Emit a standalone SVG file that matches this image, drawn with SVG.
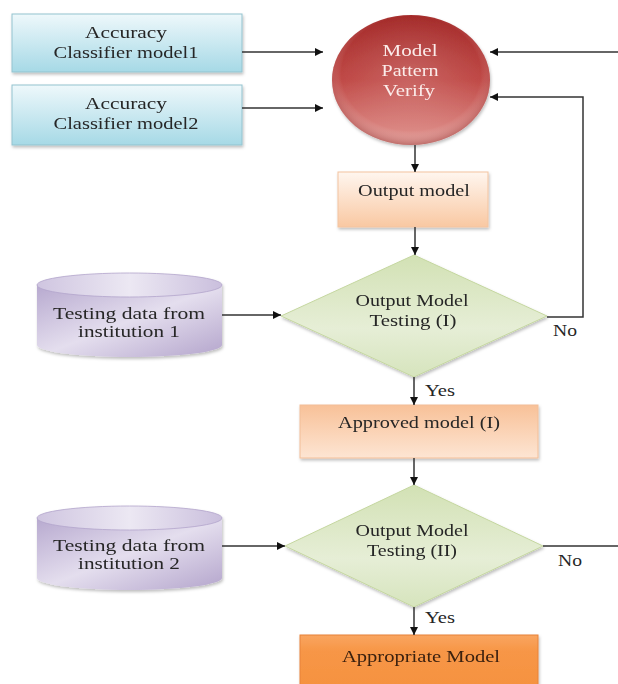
<svg xmlns="http://www.w3.org/2000/svg" width="618" height="684" viewBox="0 0 618 684">
<defs>
<linearGradient id="gCyan" x1="0" y1="0" x2="0" y2="1"><stop offset="0" stop-color="#eef8fb"/><stop offset="1" stop-color="#a6d9e6"/></linearGradient>
<linearGradient id="gRed" x1="0" y1="0" x2="0" y2="1"><stop offset="0" stop-color="#a42b2a"/><stop offset="0.5" stop-color="#c04a47"/><stop offset="1" stop-color="#e39a95"/></linearGradient>
<radialGradient id="gRedR" cx="0.5" cy="0.45" r="0.55"><stop offset="0" stop-color="#ffffff" stop-opacity="0.15"/><stop offset="0.8" stop-color="#ffffff" stop-opacity="0"/><stop offset="1" stop-color="#7a1a1a" stop-opacity="0.35"/></radialGradient>
<linearGradient id="gPeach" x1="0" y1="0" x2="0" y2="1"><stop offset="0" stop-color="#fff6ef"/><stop offset="1" stop-color="#f9c8a2"/></linearGradient>
<linearGradient id="gApproved" x1="0" y1="0" x2="0" y2="1"><stop offset="0" stop-color="#f8c198"/><stop offset="1" stop-color="#fde5d3"/></linearGradient>
<linearGradient id="gOrange" x1="0" y1="0" x2="0" y2="1"><stop offset="0" stop-color="#f9a560"/><stop offset="0.3" stop-color="#f79646"/><stop offset="1" stop-color="#f59240"/></linearGradient>
<linearGradient id="gGreen" x1="0" y1="0" x2="0" y2="1"><stop offset="0" stop-color="#d2e1b4"/><stop offset="0.6" stop-color="#e6eed6"/><stop offset="1" stop-color="#d6e4bd"/></linearGradient>
<linearGradient id="gLav" x1="0" y1="0" x2="1" y2="1"><stop offset="0" stop-color="#b7a9cf"/><stop offset="0.5" stop-color="#e4deee"/><stop offset="1" stop-color="#b4a5cc"/></linearGradient>
<linearGradient id="gLavTop" x1="0" y1="0" x2="1" y2="0"><stop offset="0" stop-color="#cfc5e0"/><stop offset="0.5" stop-color="#ece8f3"/><stop offset="1" stop-color="#cabfdd"/></linearGradient>
<filter id="sh" x="-10%" y="-10%" width="120%" height="130%"><feDropShadow dx="1" dy="2" stdDeviation="1.5" flood-color="#000" flood-opacity="0.25"/></filter>
<marker id="ah" viewBox="0 0 10 10" refX="10" refY="5" markerWidth="8" markerHeight="8" markerUnits="userSpaceOnUse" orient="auto"><path d="M0,0 L10,5 L0,10 z" fill="#111"/></marker>
</defs>
<style>
text{font-family:"Liberation Serif","Times New Roman",serif;font-size:17px;fill:#262626;text-anchor:middle;}
.w{fill:#fbecea;}
.c{fill:none;stroke:#333;stroke-width:1.5;}
.a{marker-end:url(#ah);}
</style>
<rect width="618" height="684" fill="#ffffff"/>
<g id="acc1" filter="url(#sh)"><rect x="12" y="14" width="230" height="58" fill="url(#gCyan)" stroke="#93c3cf" stroke-width="1"/>
<text x="126" y="38" textLength="82" lengthAdjust="spacingAndGlyphs">Accuracy</text>
<text x="126" y="58" textLength="145" lengthAdjust="spacingAndGlyphs">Classifier model1</text></g>
<g id="acc2" filter="url(#sh)"><rect x="12" y="85" width="230" height="60" fill="url(#gCyan)" stroke="#93c3cf" stroke-width="1"/>
<text x="126" y="109" textLength="82" lengthAdjust="spacingAndGlyphs">Accuracy</text>
<text x="126" y="129" textLength="145" lengthAdjust="spacingAndGlyphs">Classifier model2</text></g>
<g id="verify" filter="url(#sh)"><ellipse cx="411" cy="80" rx="79" ry="65" fill="url(#gRed)"/><ellipse cx="411" cy="80" rx="79" ry="65" fill="url(#gRedR)"/>
<text class="w" x="410" y="56" textLength="55" lengthAdjust="spacingAndGlyphs">Model</text>
<text class="w" x="410" y="76" textLength="57" lengthAdjust="spacingAndGlyphs">Pattern</text>
<text class="w" x="409" y="96" textLength="52" lengthAdjust="spacingAndGlyphs">Verify</text></g>
<g id="output" filter="url(#sh)"><rect x="338" y="172" width="150" height="55" fill="url(#gPeach)" stroke="#f3c4a0" stroke-width="1"/>
<text x="414" y="196" textLength="112" lengthAdjust="spacingAndGlyphs">Output model</text></g>
<g id="db1" filter="url(#sh)"><path d="M37,285 L37,345 A92.5,12 0 0 0 222,345 L222,285 Z" fill="url(#gLav)"/><ellipse cx="129.5" cy="285" rx="92.5" ry="12" fill="url(#gLavTop)" stroke="#b3a4cb" stroke-width="0.8"/>
<text x="129" y="319" textLength="152" lengthAdjust="spacingAndGlyphs">Testing data from</text>
<text x="129" y="337" textLength="102" lengthAdjust="spacingAndGlyphs">institution 1</text></g>
<g id="test1" filter="url(#sh)"><polygon points="414,255 547,316 414,377 281,316" fill="url(#gGreen)" stroke="#c5d7a0" stroke-width="1"/>
<text x="412" y="306" textLength="113" lengthAdjust="spacingAndGlyphs">Output Model</text>
<text x="413" y="326" textLength="87" lengthAdjust="spacingAndGlyphs">Testing (I)</text></g>
<g id="approved" filter="url(#sh)"><rect x="300" y="405" width="238" height="53" fill="url(#gApproved)" stroke="#f2be98" stroke-width="1"/>
<text x="419" y="428" textLength="162" lengthAdjust="spacingAndGlyphs">Approved model (I)</text></g>
<g id="db2" filter="url(#sh)"><path d="M37,518 L37,578 A92.5,12 0 0 0 222,578 L222,518 Z" fill="url(#gLav)"/><ellipse cx="129.5" cy="518" rx="92.5" ry="12" fill="url(#gLavTop)" stroke="#b3a4cb" stroke-width="0.8"/>
<text x="129" y="551" textLength="152" lengthAdjust="spacingAndGlyphs">Testing data from</text>
<text x="129" y="569" textLength="102" lengthAdjust="spacingAndGlyphs">institution 2</text></g>
<g id="test2" filter="url(#sh)"><polygon points="414,485 543,546 414,607 285,546" fill="url(#gGreen)" stroke="#c5d7a0" stroke-width="1"/>
<text x="412" y="536" textLength="113" lengthAdjust="spacingAndGlyphs">Output Model</text>
<text x="412" y="556" textLength="90" lengthAdjust="spacingAndGlyphs">Testing (II)</text></g>
<g id="appropriate" filter="url(#sh)"><rect x="300" y="635" width="238" height="55" fill="url(#gOrange)" stroke="#e8823a" stroke-width="1"/>
<text x="421" y="662" textLength="158" lengthAdjust="spacingAndGlyphs" style="fill:#3a2010">Appropriate Model</text></g>
<g id="labels">
<text x="565" y="336" textLength="24" lengthAdjust="spacingAndGlyphs">No</text>
<text x="440" y="396" textLength="30" lengthAdjust="spacingAndGlyphs">Yes</text>
<text x="570" y="566" textLength="24" lengthAdjust="spacingAndGlyphs">No</text>
<text x="440" y="623" textLength="30" lengthAdjust="spacingAndGlyphs">Yes</text>
</g>
<g id="connectors">
<path class="c a" d="M242,52 L323,52"/>
<path class="c a" d="M242,108 L323,108"/>
<path class="c a" d="M618,52 L490,52"/>
<path class="c a" d="M547,317 L583,317 L583,97 L490,97"/>
<path class="c a" d="M415,145 L415,172"/>
<path class="c a" d="M415,227 L415,255"/>
<path class="c a" d="M222,315 L281,315"/>
<path class="c a" d="M414,377 L414,405"/>
<path class="c a" d="M414,458 L414,485"/>
<path class="c a" d="M222,546 L285,546"/>
<path class="c" d="M543,546 L618,546"/>
<path class="c a" d="M414,607 L414,635"/>
</g>
</svg>
